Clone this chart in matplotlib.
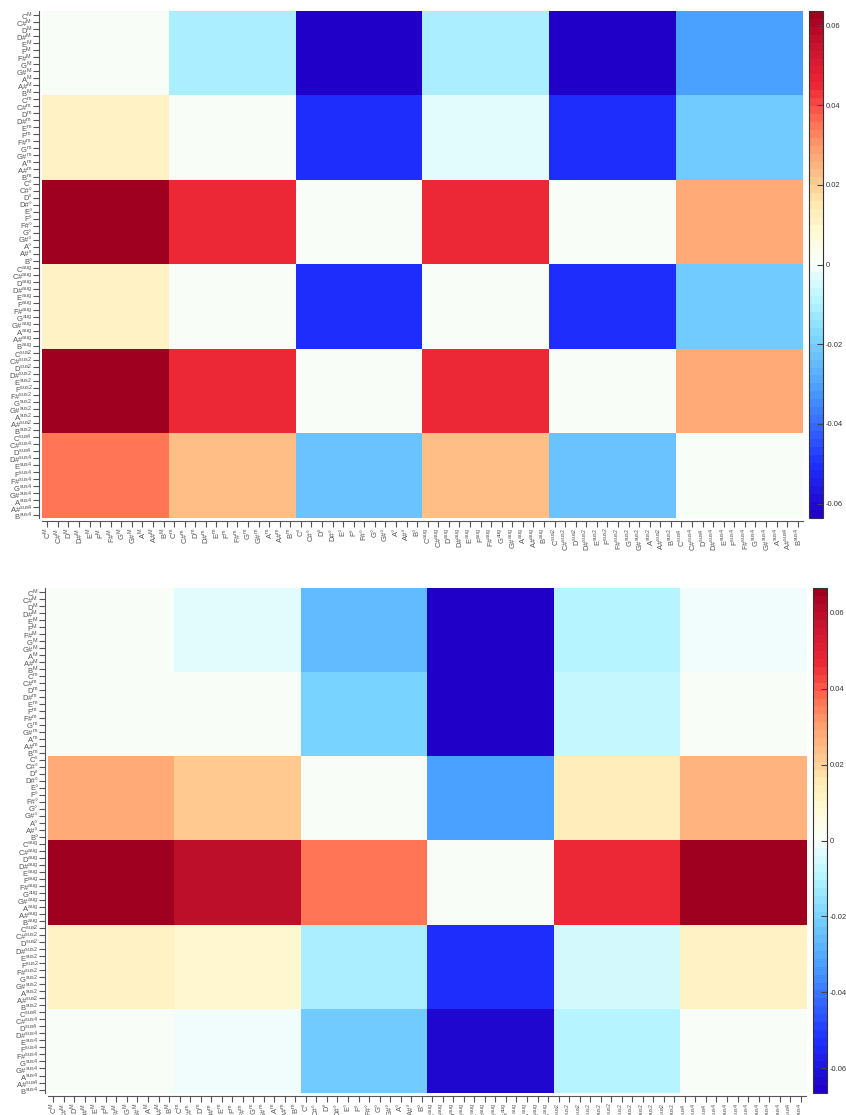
import numpy as np
import matplotlib
matplotlib.use("Agg")
import matplotlib.pyplot as plt
from matplotlib.colors import LinearSegmentedColormap
from matplotlib.ticker import FuncFormatter

roots = ["C", "C#", "D", "D#", "E", "F", "F#", "G", "G#", "A", "A#", "B"]
qualities = ["$^{\\mathrm{M}}$", "$^{\\mathrm{m}}$", "°",
             "$^{\\mathrm{aug}}$", "$^{\\mathrm{sus2}}$", "$^{\\mathrm{sus4}}$"]

# block values (row quality x column quality)
top_blocks = [
    [0.000, -0.010, -0.062, -0.010, -0.062, -0.031],
    [0.010, 0.000, -0.050, -0.002, -0.050, -0.020],
    [0.063, 0.045, 0.000, 0.045, 0.000, 0.027],
    [0.011, 0.000, -0.050, 0.000, -0.050, -0.020],
    [0.063, 0.045, 0.000, 0.045, 0.000, 0.027],
    [0.035, 0.022, -0.022, 0.022, -0.022, 0.000],
]
bottom_blocks = [
    [0.000, -0.003, -0.027, -0.065, -0.009, -0.002],
    [0.002, 0.000, -0.020, -0.065, -0.008, 0.002],
    [0.028, 0.021, 0.000, -0.033, 0.014, 0.026],
    [0.066, 0.060, 0.036, 0.000, 0.047, 0.065],
    [0.011, 0.010, -0.011, -0.052, -0.005, 0.012],
    [0.001, -0.002, -0.022, -0.064, -0.009, 0.000],
]
top_vmax = 0.0636
bottom_vmax = 0.0665

labels = [r + q for q in qualities for r in roots]

cmap = LinearSegmentedColormap.from_list("bwr_custom", [
    (0.00, "#2000c8"), (0.10, "#1e30ff"), (0.25, "#4a9fff"),
    (0.35, "#7ad4ff"), (0.43, "#b8f6ff"), (0.50, "#f8fffc"),
    (0.56, "#fffbd8"), (0.62, "#ffeab0"), (0.68, "#ffc088"),
    (0.73, "#ffa070"), (0.79, "#ff6a50"), (0.86, "#ec2535"),
    (0.93, "#cc1530"), (1.00, "#a00020"),
], N=64)

plt.rcParams["font.family"] = ["Liberation Sans", "DejaVu Sans"]
plt.rcParams["mathtext.fontset"] = "custom"
plt.rcParams["mathtext.rm"] = "Liberation Sans"

fig = plt.figure(figsize=(8.46, 11.15), dpi=100)

panels = [
    (top_blocks, top_vmax, [0.0496, 0.5354, 0.8995, 0.4547], [0.9563, 0.5354, 0.0165, 0.4547]),
    (bottom_blocks, bottom_vmax, [0.0567, 0.0197, 0.896, 0.4529], [0.961, 0.0197, 0.0165, 0.4529]),
]

for blocks, vmax, pos, cpos in panels:
    data = np.kron(np.array(blocks), np.ones((12, 12)))
    ax = fig.add_axes(pos)
    im = ax.imshow(data, cmap=cmap, vmin=-vmax, vmax=vmax, aspect="auto",
                   interpolation="nearest")
    ax.set_xticks(range(72), labels)
    ax.set_yticks(range(72), labels)
    ax.tick_params(axis="both", labelsize=5.5, labelcolor="#555555",
                   length=4, width=0.8, color="#555555", pad=1)
    ax.tick_params(axis="x", labelrotation=90)
    for s in ["top", "right"]:
        ax.spines[s].set_visible(False)
    for s in ["left", "bottom"]:
        ax.spines[s].set_color("#555555")
        ax.spines[s].set_position(("outward", 2))
    cax = fig.add_axes(cpos)
    cb = fig.colorbar(im, cax=cax, format=FuncFormatter(lambda v, p: f"{v:g}"))
    cb.set_ticks([-0.06, -0.04, -0.02, 0, 0.02, 0.04, 0.06])
    cax.tick_params(labelsize=5.5, length=4, width=0.8, direction="in",
                    color="#444444", labelcolor="#333333", pad=2)
    cb.outline.set_edgecolor("#333333")

fig.savefig("out.png", dpi=100)
